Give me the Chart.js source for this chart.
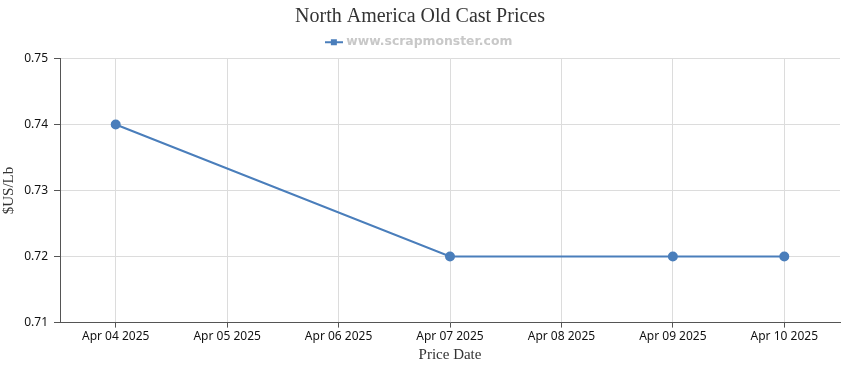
<!DOCTYPE html>
<html>
<head>
<meta charset="utf-8">
<script src="https://cdn.jsdelivr.net/npm/chart.js@4/dist/chart.umd.min.js"></script>
<style>
  html, body { margin: 0; padding: 0; background: #fff; }
  #wrap { width: 850px; height: 370px; }
</style>
</head>
<body>
<div id="wrap"><canvas id="chart"></canvas></div>
<script>
const dates = ["Apr 04 2025", "Apr 05 2025", "Apr 06 2025", "Apr 07 2025", "Apr 08 2025", "Apr 09 2025", "Apr 10 2025"];
const prices = [0.74, null, null, 0.72, null, 0.72, 0.72];
const yTicks = [0.71, 0.72, 0.73, 0.74, 0.75];

const lineColor = "#4a7ebb";

// legend icon: short line with a square in the middle
const icon = document.createElement("canvas");
icon.width = 18; icon.height = 8;
const ictx = icon.getContext("2d");
ictx.fillStyle = lineColor;
ictx.fillRect(0, 3, 18, 2);
ictx.fillRect(6, 1, 6, 6);

new Chart(document.getElementById("chart"), {
  type: "line",
  data: {
    labels: dates,
    datasets: [{
      label: "www.scrapmonster.com",
      data: prices,
      borderColor: lineColor,
      backgroundColor: lineColor,
      borderWidth: 2,
      pointRadius: 4,
      pointHoverRadius: 5,
      pointStyle: "circle",
      spanGaps: true,
      tension: 0
    }]
  },
  options: {
    responsive: true,
    maintainAspectRatio: false,
    animation: false,
    layout: { padding: { left: 0, right: 10, top: 5, bottom: 6 } },
    plugins: {
      title: {
        display: true,
        text: "North America Old Cast Prices",
        color: "#333",
        font: { family: "Liberation Serif", size: 20, weight: "normal" },
        padding: { top: 0, bottom: 2 }
      },
      legend: {
        labels: {
          usePointStyle: true,
          pointStyle: icon,
          color: "#c8c8c8",
          font: { family: "DejaVu Sans", size: 12.4, weight: "bold" },
          padding: 5
        }
      },
      tooltip: { enabled: false }
    },
    scales: {
      x: {
        offset: true,
        grid: { color: "#dcdcdc", tickColor: "#555", tickLength: 5, offset: false },
        border: { color: "#555" },
        ticks: { color: "#111", font: { family: "Noto Sans", size: 12 }, maxRotation: 0, autoSkip: false, padding: 2 },
        title: {
          display: true, text: "Price Date", color: "#333",
          font: { family: "Liberation Serif", size: 15 }, padding: { top: 0, bottom: 0 }
        }
      },
      y: {
        min: 0.71,
        max: 0.75,
        afterBuildTicks: s => { s.ticks = yTicks.map(v => ({ value: v })); },
        afterFit: s => { s.width = 60; },
        grid: { color: "#dcdcdc", tickColor: "#555", tickLength: 6 },
        border: { color: "#555" },
        ticks: {
          color: "#111", font: { family: "Noto Sans", size: 12 }, padding: 6,
          callback: v => v.toFixed(2)
        },
        title: {
          display: true, text: "$US/Lb", color: "#333",
          font: { family: "Liberation Serif", size: 15 }, padding: { top: 0, bottom: 2 }
        }
      }
    }
  }
});
</script>
</body>
</html>
